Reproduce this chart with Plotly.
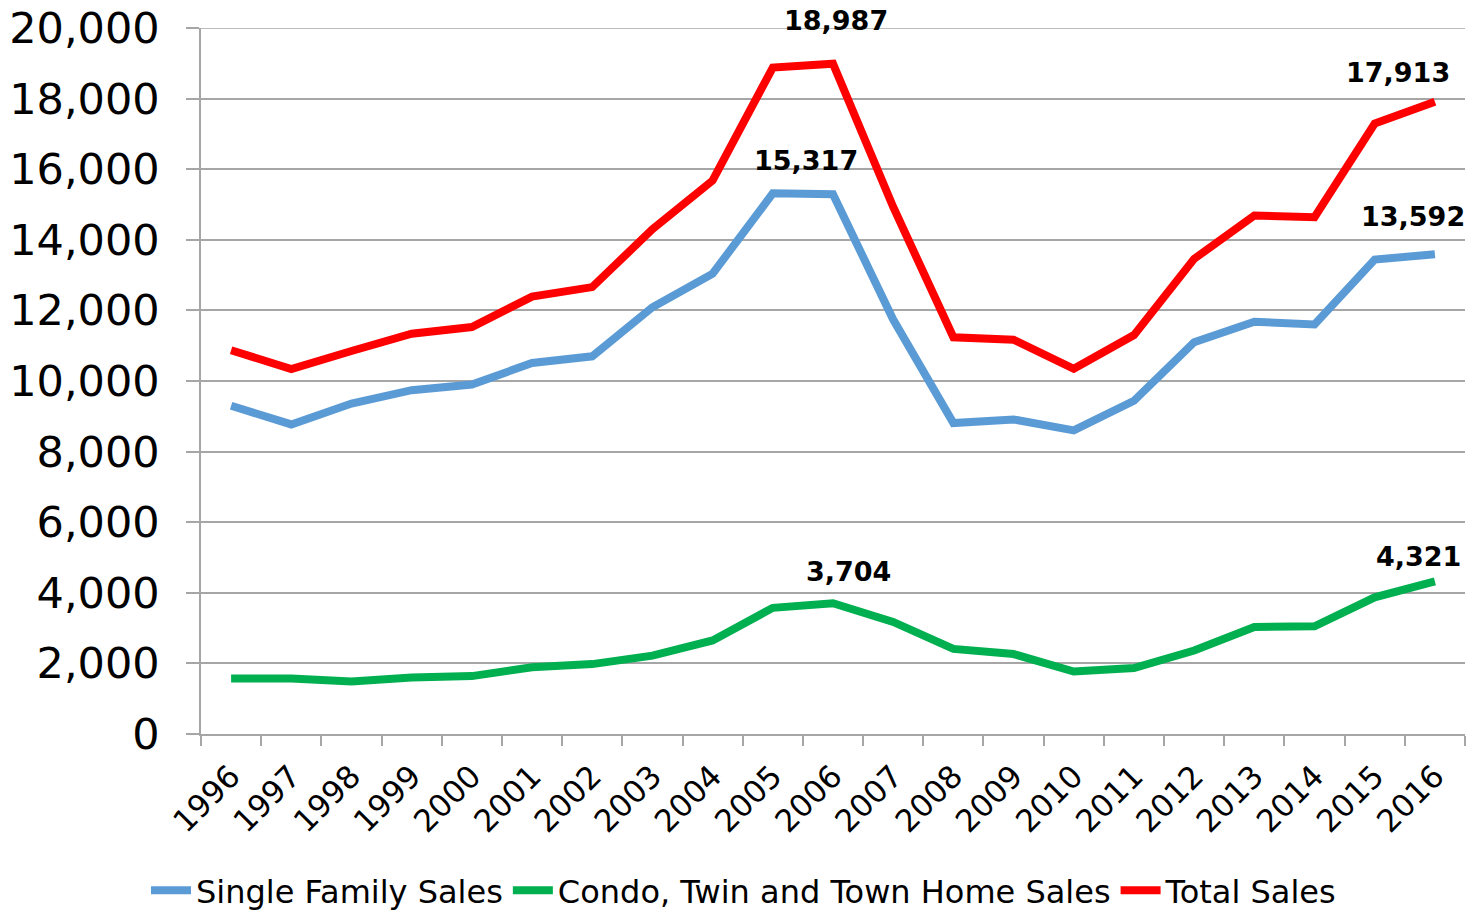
import plotly.graph_objects as go

years = [str(y) for y in range(1996, 2017)]
single_family = [9300, 8770, 9360, 9740, 9900, 10510, 10700, 12090, 13040, 15317, 15290,
                 11740, 8810, 8910, 8600, 9440, 11100, 11680, 11600, 13440, 13592]
condo = [1575, 1575, 1490, 1600, 1640, 1890, 1980, 2220, 2650, 3575, 3704,
         3175, 2410, 2265, 1770, 1870, 2365, 3030, 3050, 3870, 4321]
total = [10870, 10340, 10850, 11340, 11530, 12390, 12660, 14300, 15680, 18880, 18987,
         14930, 11240, 11170, 10345, 11300, 13460, 14690, 14640, 17295, 17913]

series_names = ["Single Family Sales", "Condo, Twin and Town Home Sales", "Total Sales"]
y_ticks = list(range(0, 20001, 2000))

FONT = "DejaVu Sans, Verdana, sans-serif"
GRID = "#A6A6A6"

fig = go.Figure()
fig.add_trace(go.Scatter(x=years, y=single_family, name=series_names[0], mode="lines",
                         line=dict(color="#5B9BD5", width=8)))
fig.add_trace(go.Scatter(x=years, y=condo, name=series_names[1], mode="lines",
                         line=dict(color="#00B050", width=8)))
fig.add_trace(go.Scatter(x=years, y=total, name=series_names[2], mode="lines",
                         line=dict(color="#FF0000", width=8)))

# data labels: (series values, year, xshift, yshift)
labels = [
    (total, "2006", 3, 43),
    (single_family, "2005", 33, 33),
    (total, "2016", -37, 29),
    (single_family, "2016", -22, 38),
    (condo, "2006", 15, 32),
    (condo, "2016", -16, 25),
]
for vals, yr, dx, dy in labels:
    i = years.index(yr)
    fig.add_annotation(x=i, y=vals[i], xref="x", yref="y", text=f"{vals[i]:,}",
                       showarrow=False, xshift=dx, yshift=dy,
                       xanchor="center", yanchor="middle",
                       font=dict(family=FONT, size=27, color="black", weight="bold"))

# top gridline (plotly skips the gridline at the very edge of the plot area)
fig.add_shape(type="line", xref="paper", yref="y", x0=0, x1=1,
              y0=y_ticks[-1], y1=y_ticks[-1], line=dict(color=GRID, width=1.5),
              layer="below")

fig.update_layout(
    width=1472, height=906,
    paper_bgcolor="white", plot_bgcolor="white",
    margin=dict(l=193, r=15, t=20, b=180, autoexpand=False),
    font=dict(family=FONT, color="black"),
    showlegend=True,
    legend=dict(orientation="h", xref="container", yref="container",
                x=0.5, xanchor="center", y=0.026, yanchor="middle",
                font=dict(family=FONT, size=32, color="black"),
                itemwidth=40, tracegroupgap=0),
)
fig.update_xaxes(type="category", range=[-0.5, 20.5], tickson="boundaries",
                 ticks="outside", ticklen=10, tickcolor=GRID, tickwidth=1.5,
                 showline=True, linecolor=GRID, linewidth=1.5, showgrid=False,
                 tickangle=-45, tickfont=dict(family=FONT, size=31, color="black"),
                 ticklabelstandoff=10, ticklabeloverflow="allow", automargin=False)
fig.update_yaxes(range=[0, 20000], tickvals=y_ticks, tickformat=",",
                 ticks="outside", ticklen=13, tickcolor=GRID, tickwidth=1.5,
                 showline=True, linecolor=GRID, linewidth=1.5,
                 showgrid=True, gridcolor=GRID, gridwidth=1.5, zeroline=False,
                 tickfont=dict(family=FONT, size=43, color="black"),
                 ticklabelstandoff=18, ticklabeloverflow="allow", automargin=False)

fig.write_html("out.html")
